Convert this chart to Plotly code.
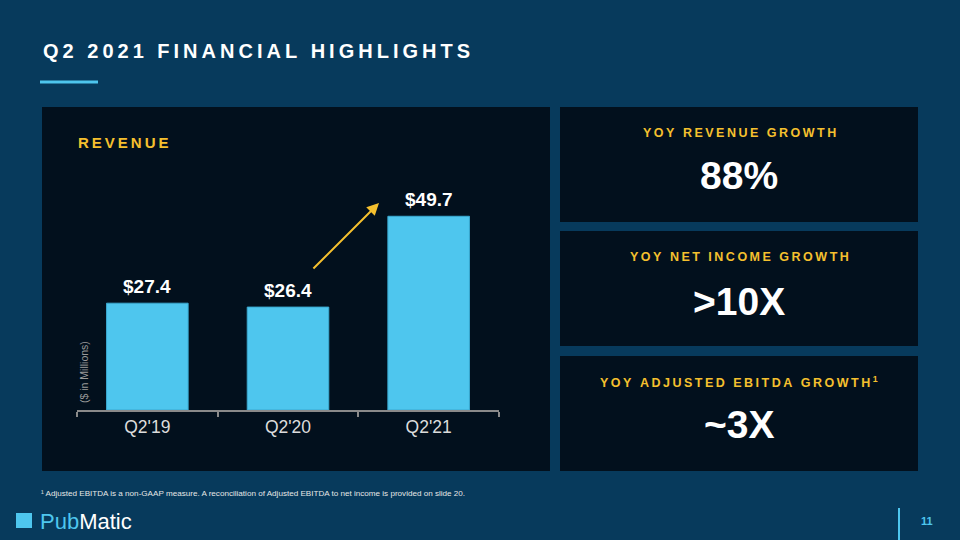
"""Q2 2021 financial highlights slide — revenue bars + YoY KPI cards."""
import plotly.graph_objects as go

# --- data ---
quarters = ["Q2'19", "Q2'20", "Q2'21"]
revenue = [27.4, 26.4, 49.7]
kpi_titles = ["YOY REVENUE GROWTH", "YOY NET INCOME GROWTH", "YOY ADJUSTED EBITDA GROWTH"]
kpi_values = ["88%", ">10X", "~3X"]
footnote = ("¹ Adjusted EBITDA is a non-GAAP measure. A reconciliation of Adjusted "
            "EBITDA to net income is provided on slide 20.")

BG = "#073a5c"
PANEL = "#02101d"
BAR = "#4ec6ee"
YELLOW = "#f5c02e"
FONT = "Liberation Sans, Arial, sans-serif"
W, H = 960, 540


def spaced(s):
    # fake letter-spacing with thin spaces
    return "\u2009".join(s)


def px(x0, y0, x1, y1):
    """pixel box -> paper coords"""
    return dict(x0=x0 / W, x1=x1 / W, y0=1 - y1 / H, y1=1 - y0 / H)


fig = go.Figure()
fig.add_trace(go.Bar(
    x=quarters, y=revenue, width=0.58,
    marker=dict(color=BAR, line=dict(color="#3aa9d0", width=1)),
    showlegend=False, hoverinfo="skip",
))

shapes = []
# panels
for box in [(42, 107, 550, 471), (560, 107, 918, 222),
            (560, 231, 918, 346), (560, 356, 918, 471)]:
    shapes.append(dict(type="rect", xref="paper", yref="paper", layer="below",
                       fillcolor=PANEL, line_width=0, **px(*box)))
# title underline
shapes.append(dict(type="rect", xref="paper", yref="paper", fillcolor=BAR,
                   line_width=0, **px(40, 80.5, 98, 83.5)))
# logo square
shapes.append(dict(type="rect", xref="paper", yref="paper", fillcolor=BAR,
                   line_width=0, **px(16, 513, 32, 528)))
# page number divider
shapes.append(dict(type="rect", xref="paper", yref="paper", fillcolor=BAR,
                   line_width=0, **px(898, 508, 900, 540)))

ann = []


def text(x, y, t, size, color, bold=False, xanchor="center", **kw):
    ann.append(dict(xref="paper", yref="paper", x=x / W, y=1 - y / H, text=t,
                    showarrow=False, xanchor=xanchor, yanchor="middle",
                    font=dict(family=FONT, size=size, color=color,
                              weight="bold" if bold else "normal"), **kw))


text(41, 51, spaced("Q2 2021 FINANCIAL HIGHLIGHTS"), 20, "white", True, "left")
text(76, 142, spaced("REVENUE"), 15, YELLOW, True, "left")
text(84, 372, "($ in Millions)", 10.5, "#9a9a9a", textangle=-90)

title_y = [133, 257, 382]
value_y = [175, 301, 424]
for i, (t, v) in enumerate(zip(kpi_titles, kpi_values)):
    label = spaced(t) + ("\u2009<sup>1</sup>" if i == 2 else "")
    text(739, title_y[i], label, 12.5, YELLOW, True)
    text(739, value_y[i], v, 39, "white", True)

text(39, 493, footnote, 8.1, "#e6e6e6", xanchor="left")
text(38, 521, "<span style='color:%s'>Pub</span>Matic" % BAR, 22, "white",
     xanchor="left")
text(927, 521, "11", 11, BAR, True)

# bar value labels
for q, v in zip(quarters, revenue):
    ann.append(dict(x=q, y=v, xref="x", yref="y", text=f"${v}", showarrow=False,
                    yanchor="bottom", yshift=4,
                    font=dict(family=FONT, size=19, color="white", weight="bold")))

# growth arrow Q2'20 -> Q2'21
ann.append(dict(x=1.647, y=53.1, ax=1.17, ay=35.9, xref="x", yref="y",
                axref="x", ayref="y", text="", showarrow=True, arrowhead=2,
                arrowsize=1.2, arrowwidth=2, arrowcolor=YELLOW))

fig.update_layout(
    width=W, height=H, margin=dict(l=0, r=0, t=0, b=0),
    paper_bgcolor=BG, plot_bgcolor="rgba(0,0,0,0)",
    shapes=shapes, annotations=ann, bargap=0.4,
    xaxis=dict(domain=[77 / W, 499 / W], range=[-0.5, 2.5], showgrid=False,
               showline=True, linecolor="#8a8a8a", linewidth=1.5,
               ticks="outside", tickson="boundaries", ticklen=5,
               tickcolor="#8a8a8a", tickwidth=1.5, fixedrange=True,
               tickfont=dict(family=FONT, size=17.5, color="#dcdcdc")),
    yaxis=dict(domain=[1 - 410 / H, 1 - 150 / H], range=[0, 66.7],
               visible=False, fixedrange=True),
)
fig.write_html("out.html", config={"displayModeBar": False},
               post_script="document.body.style.margin='0';")
